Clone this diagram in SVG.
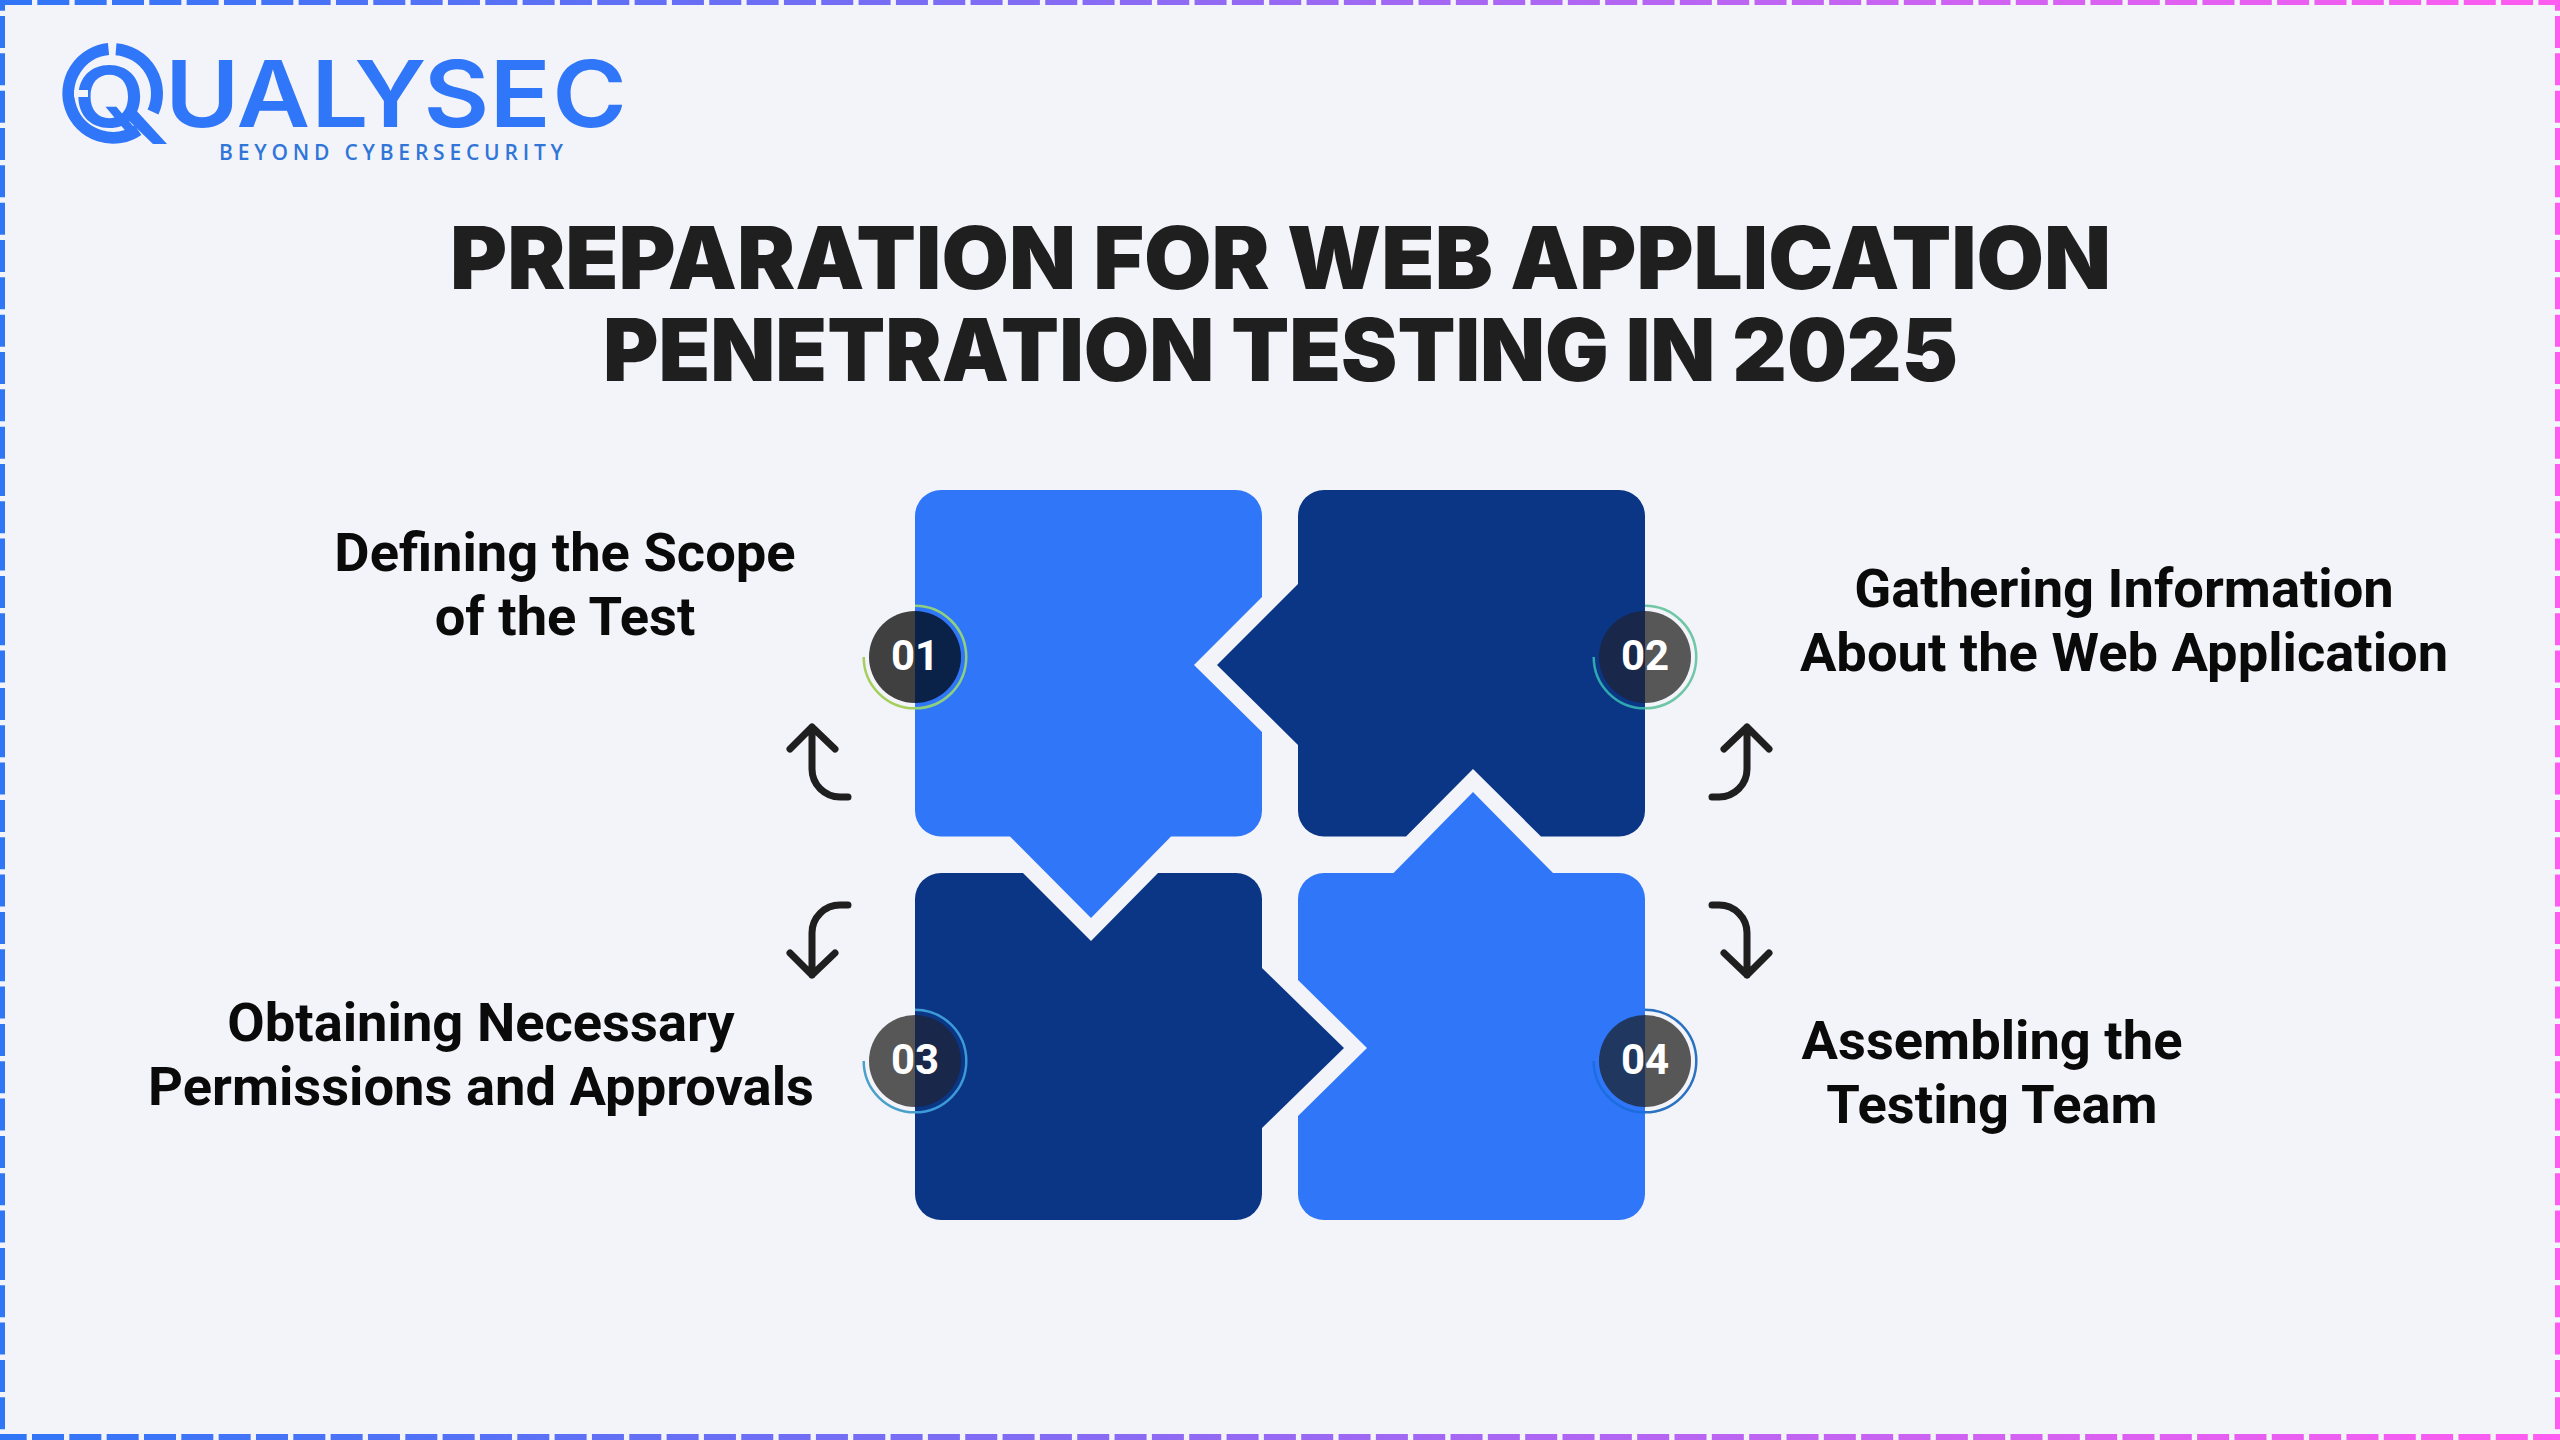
<svg xmlns="http://www.w3.org/2000/svg" width="2560" height="1440" viewBox="0 0 2560 1440">
<defs>
<linearGradient id="bd" gradientUnits="userSpaceOnUse" x1="0" y1="0" x2="2560" y2="0"><stop offset="0" stop-color="#2f76f7"/><stop offset="1" stop-color="#ff5cf0"/></linearGradient>
</defs>
<style>
.edge{fill:none;stroke:url(#bd);stroke-dasharray:32 5.33}
.light{fill:#3076f8}.navy{fill:#0b3685}
.title{font-family:"Inter","Liberation Sans",sans-serif;font-weight:900;font-size:87px;fill:#1f1f1f}
.lbl{font-family:"Roboto","Liberation Sans",sans-serif;font-weight:700;font-size:54.300px;fill:#0a0a0a;text-anchor:middle}
.num{font-family:"Roboto","Liberation Sans",sans-serif;font-weight:700;font-size:42px;fill:#fff;text-anchor:middle}
.arrow{fill:none;stroke:#1f1f1f;stroke-width:7;stroke-linecap:round;stroke-linejoin:round}
.ring{fill:none;stroke-width:2.5}
</style>
<rect width="2560" height="1440" fill="#f3f3fa"/>
<g id="border">
<path class="edge" stroke-width="10" d="M0 0H2560"/>
<path class="edge" stroke-width="12" stroke-dashoffset="5.33" d="M0 1440H2560"/>
<path class="edge" stroke-width="10" stroke-dashoffset="21.33" d="M0 0V1440"/>
<path class="edge" stroke-width="10" stroke-dashoffset="21.33" d="M2560 0V1440"/>
</g>
<g id="logo">
<path d="M108.500 49A44.500 44.500 0 1 0 138 130" fill="none" stroke="#3076f8" stroke-width="12"/>
<path d="M116 49.200A44.500 44.500 0 0 1 153 112" fill="none" stroke="#3076f8" stroke-width="12"/>
<text transform="scale(1.1 1)" font-family="Inter,'Liberation Sans',sans-serif" font-weight="600" font-size="92" fill="#3076f8" x="67 150 215 283 322 385 445 502" y="127"><tspan font-size="84">Q</tspan>UALYSEC</text>
<path d="M123 115L134 108L167 144H153Z" fill="#3076f8"/>
<rect x="74" y="90" width="14" height="7" fill="#f3f3fa"/>
<text font-family="'Open Sans','Liberation Sans',sans-serif" font-weight="600" font-size="21" fill="#3076d8" x="219" y="160" textLength="344" lengthAdjust="spacing">BEYOND CYBERSECURITY</text>
</g>
<g id="title">
<text class="title" x="450" y="289" textLength="1661" lengthAdjust="spacingAndGlyphs">PREPARATION FOR WEB APPLICATION</text>
<text class="title" x="603" y="381" textLength="1355" lengthAdjust="spacingAndGlyphs">PENETRATION TESTING IN 2025</text>
</g>
<g id="node-1">
<path class="light" d="M941 490H1236A26 26 0 0 1 1262 516V597L1194 665L1262 732V810.500A26 26 0 0 1 1236 836.500H1171L1091 918L1010 836.500H941A26 26 0 0 1 915 810.500V516A26 26 0 0 1 941 490Z"/>
<path d="M915 611A46 46 0 0 0 915 703Z" fill="#404040"/>
<path d="M915 611A46 46 0 0 1 915 703Z" fill="#0a2148"/>
<path class="ring" stroke="#a5cf5c" d="M863.700 657A51.300 51.300 0 0 0 915 708.300"/>
<path class="ring" stroke="#8fd07f" d="M915 708.300A51.300 51.300 0 0 0 915 605.700"/>
<text class="num" x="915" y="670">01</text>
<text class="lbl" x="565" y="571">Defining the Scope</text>
<text class="lbl" x="565" y="635">of the Test</text>
</g>
<g id="node-2">
<path class="navy" d="M1324 490H1619A26 26 0 0 1 1645 516V810.500A26 26 0 0 1 1619 836.500H1541L1473 769L1406 836.500H1324A26 26 0 0 1 1298 810.500V745L1217 665L1298 584V516A26 26 0 0 1 1324 490Z"/>
<path d="M1645 611A46 46 0 0 0 1645 703Z" fill="#18274a"/>
<path d="M1645 611A46 46 0 0 1 1645 703Z" fill="#575757"/>
<path class="ring" stroke="#2fa8b0" d="M1593.700 657A51.300 51.300 0 0 0 1645 708.300"/>
<path class="ring" stroke="#6fc7a5" d="M1645 708.300A51.300 51.300 0 0 0 1645 605.700"/>
<text class="num" x="1645" y="670">02</text>
<text class="lbl" x="2124" y="607">Gathering Information</text>
<text class="lbl" x="2124" y="671">About the Web Application</text>
</g>
<g id="node-3">
<path class="navy" d="M941 873H1023L1091 941L1158 873H1236A26 26 0 0 1 1262 899V968L1344 1048L1262 1128V1194A26 26 0 0 1 1236 1220H941A26 26 0 0 1 915 1194V899A26 26 0 0 1 941 873Z"/>
<path d="M915 1015A46 46 0 0 0 915 1107Z" fill="#575757"/>
<path d="M915 1015A46 46 0 0 1 915 1107Z" fill="#18274a"/>
<path class="ring" stroke="#4ba0c8" d="M863.700 1061A51.300 51.300 0 0 0 915 1112.300"/>
<path class="ring" stroke="#3d9ad9" d="M915 1112.300A51.300 51.300 0 0 0 915 1009.700"/>
<text class="num" x="915" y="1074">03</text>
<text class="lbl" x="481" y="1041">Obtaining Necessary</text>
<text class="lbl" x="481" y="1105">Permissions and Approvals</text>
</g>
<g id="node-4">
<path class="light" d="M1324 873H1393.500L1473 792L1553 873H1619A26 26 0 0 1 1645 899V1194A26 26 0 0 1 1619 1220H1324A26 26 0 0 1 1298 1194V1116L1367 1048L1298 980V899A26 26 0 0 1 1324 873Z"/>
<path d="M1645 1015A46 46 0 0 0 1645 1107Z" fill="#203860"/>
<path d="M1645 1015A46 46 0 0 1 1645 1107Z" fill="#575757"/>
<path class="ring" stroke="#1c6de0" d="M1593.700 1061A51.300 51.300 0 0 0 1645 1112.300"/>
<path class="ring" stroke="#2a72c0" d="M1645 1112.300A51.300 51.300 0 0 0 1645 1009.700"/>
<text class="num" x="1645" y="1074">04</text>
<text class="lbl" x="1992" y="1059">Assembling the</text>
<text class="lbl" x="1992" y="1123">Testing Team</text>
</g>
<g id="connectors">
<path class="arrow" d="M848 797H840A28 28 0 0 1 812 769V727M790 749L812 727L835 749"/>
<path class="arrow" d="M1712 797H1719A28 28 0 0 0 1747 769V727M1724 749L1747 727L1769 749"/>
<path class="arrow" d="M848 905H840A28 28 0 0 0 812 933V975M790 953L812 975L835 953"/>
<path class="arrow" d="M1712 905H1719A28 28 0 0 1 1747 933V975M1724 953L1747 975L1769 953"/>
</g>
</svg>
